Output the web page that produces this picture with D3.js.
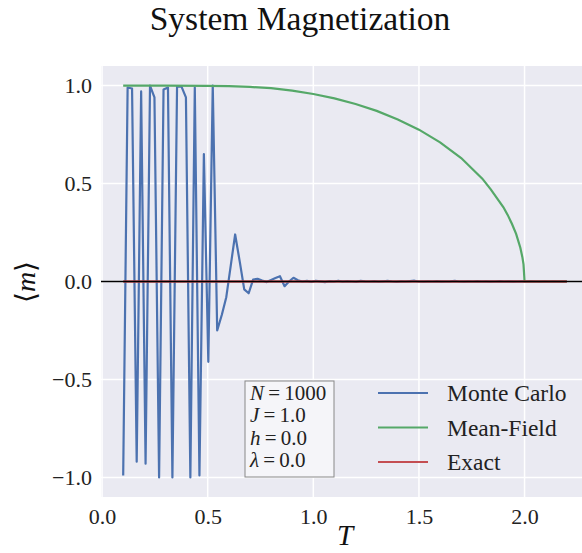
<!DOCTYPE html>
<html>
<head>
<meta charset="utf-8">
<script src="https://cdn.jsdelivr.net/npm/d3@7/dist/d3.min.js"></script>
<style>
  body { margin: 0; background: #fff; }
  svg { display: block; font-family: "Liberation Serif", "DejaVu Serif", serif; }
</style>
</head>
<body>
<div id="chart"></div>
<script>
// Temperatures sampled by the simulation
const temps = [
  0.100, 0.121, 0.142, 0.164, 0.185, 0.206, 0.227, 0.248, 0.270, 0.291,
  0.312, 0.333, 0.355, 0.376, 0.397, 0.418, 0.439, 0.461, 0.482, 0.503,
  0.524, 0.545, 0.567, 0.588, 0.609, 0.630, 0.652, 0.673, 0.694, 0.715,
  0.736, 0.758, 0.779, 0.800, 0.821, 0.842, 0.864, 0.885, 0.906, 0.927,
  0.948, 0.970, 0.991, 1.012, 1.033, 1.055, 1.076, 1.097, 1.118, 1.139,
  1.161, 1.182, 1.203, 1.224, 1.245, 1.267, 1.288, 1.309, 1.330, 1.352,
  1.373, 1.394, 1.415, 1.436, 1.458, 1.479, 1.500, 1.521, 1.542, 1.564,
  1.585, 1.606, 1.627, 1.648, 1.670, 1.691, 1.712, 1.733, 1.755, 1.776,
  1.797, 1.818, 1.839, 1.861, 1.882, 1.903, 1.924, 1.945, 1.967, 1.988,
  2.009, 2.030, 2.052, 2.073, 2.094, 2.115, 2.136, 2.158, 2.179, 2.200
];

// Monte Carlo magnetization, one value per temperature
const monteCarlo = [
  -0.99, 0.99, 0.985, -0.92, 0.97, -0.93, 1.0, 0.94, -1.0, 0.98,
  0.99, -1.0, 0.995, 0.995, 0.94, -1.0, 0.99, -0.99, 0.65, -0.41,
  1.0, -0.25, -0.17, -0.08, 0.08, 0.24, 0.10, -0.04, -0.06, 0.01,
  0.014, 0.005, -0.003, 0.008, 0.018, 0.027, -0.024, 0.0, 0.019, 0.006,
  0.0, 0.003, -0.002, 0.004, 0.001, -0.003, 0.002, 0.0, 0.004, -0.001,
  0.002, 0.0, -0.002, 0.003, 0.001, 0.0, 0.002, -0.001, 0.001, 0.003,
  0.0, -0.002, 0.001, 0.0, 0.002, 0.004, 0.0, -0.001, 0.001, 0.0,
  0.002, -0.001, 0.0, 0.001, 0.003, 0.0, -0.001, 0.001, 0.0, 0.002,
  0.0, 0.001, -0.001, 0.0, 0.002, 0.0, 0.001, -0.001, 0.0, 0.001,
  0.0, 0.002, 0.0, -0.001, 0.001, 0.0, 0.001, 0.0, -0.001, 0.0
];

// Mean-field curve
const mfTemps = [0.1, 0.3, 0.5, 0.6, 0.7, 0.8, 0.9, 1.0, 1.1, 1.2, 1.3, 1.4, 1.5,
  1.6, 1.7, 1.8, 1.84, 1.9, 1.92, 1.94, 1.96, 1.98, 1.99, 1.995, 2.0, 2.2];
const meanField = [1.0, 1.0, 0.999, 0.997, 0.993, 0.987, 0.974, 0.957, 0.935, 0.906, 0.871, 0.827, 0.775,
  0.71, 0.63, 0.525, 0.47, 0.379, 0.34, 0.295, 0.243, 0.172, 0.122, 0.087, 0.0, 0.0];

// Exact solution (zero field, 1D)
const exactTemps = [0.1, 2.2];
const exact = [0.0, 0.0];

const xTicks = [0.0, 0.5, 1.0, 1.5, 2.0];
const yTicks = [-1.0, -0.5, 0.0, 0.5, 1.0];
const seriesNames = ["Monte Carlo", "Mean-Field", "Exact"];
const seriesColors = ["#4C72B0", "#55A868", "#C44E52"];
const boxLines = [["N", "1000"], ["J", "1.0"], ["h", "0.0"], ["λ", "0.0"]];

const W = 582, H = 553;
const plot = { left: 101, right: 589, top: 66, bottom: 497 };

const svg = d3.select("#chart").append("svg")
  .attr("width", W).attr("height", H);

const x = d3.scaleLinear().domain([-0.005, 2.305]).range([plot.left, plot.right]);
const y = d3.scaleLinear().domain([-1.1, 1.1]).range([plot.bottom, plot.top]);

// Background
svg.append("rect")
  .attr("x", plot.left).attr("y", plot.top)
  .attr("width", plot.right - plot.left).attr("height", plot.bottom - plot.top)
  .attr("fill", "#EAEAF2");

// Grid
const grid = svg.append("g");
grid.selectAll(".gx").data(xTicks).enter().append("line")
  .attr("x1", d => x(d)).attr("x2", d => x(d))
  .attr("y1", plot.top).attr("y2", plot.bottom)
  .attr("stroke", "#fff").attr("stroke-width", 1.5);
grid.selectAll(".gy").data(yTicks).enter().append("line")
  .attr("x1", plot.left).attr("x2", plot.right)
  .attr("y1", d => y(d)).attr("y2", d => y(d))
  .attr("stroke", "#fff").attr("stroke-width", 1.5);

// Axes
const fmt = d => (d < 0 ? "\u2212" : "") + Math.abs(d).toFixed(1);
const xAxis = svg.append("g")
  .attr("transform", `translate(0,${plot.bottom})`)
  .call(d3.axisBottom(x).tickValues(xTicks).tickSize(0).tickPadding(11).tickFormat(fmt));
const yAxis = svg.append("g")
  .attr("transform", `translate(${plot.left},0)`)
  .call(d3.axisLeft(y).tickValues(yTicks).tickSize(0).tickPadding(9).tickFormat(fmt));
[xAxis, yAxis].forEach(a => {
  a.select(".domain").remove();
  a.selectAll("text")
    .attr("font-family", "Liberation Serif, serif")
    .attr("font-size", 22).attr("fill", "#222");
});

// Lines
const line = d3.line().x(d => x(d[0])).y(d => y(d[1]));
const plotArea = svg.append("g");

plotArea.append("path")
  .datum(d3.zip(temps, monteCarlo))
  .attr("d", line).attr("fill", "none")
  .attr("stroke", seriesColors[0]).attr("stroke-width", 2.2).attr("stroke-linejoin", "round");

plotArea.append("path")
  .datum(d3.zip(mfTemps, meanField))
  .attr("d", line).attr("fill", "none")
  .attr("stroke", seriesColors[1]).attr("stroke-width", 2.2);

plotArea.append("path")
  .datum(d3.zip(exactTemps, exact))
  .attr("d", line).attr("fill", "none")
  .attr("stroke", seriesColors[2]).attr("stroke-width", 2.4);

// axhline at zero
plotArea.append("line")
  .attr("x1", plot.left).attr("x2", plot.right)
  .attr("y1", y(0)).attr("y2", y(0))
  .attr("stroke", "#000").attr("stroke-width", 1.3);

// Parameter box
const box = svg.append("g").attr("transform", "translate(245,381)");
box.append("rect")
  .attr("width", 89).attr("height", 96)
  .attr("fill", "#F5F5F9").attr("stroke", "#888").attr("stroke-width", 1);
boxLines.forEach((d, i) => {
  const t = box.append("text")
    .attr("x", 5).attr("y", 12 + i * 22.3)
    .attr("dominant-baseline", "central")
    .attr("font-size", 21).attr("fill", "#222");
  t.append("tspan").attr("font-style", "italic").text(d[0]);
  t.append("tspan").text("\u2009=\u2009" + d[1]);
});

// Legend
const legend = svg.append("g");
seriesNames.forEach((name, i) => {
  const ly = 393 + i * 34.5;
  legend.append("line")
    .attr("x1", 378).attr("x2", 428).attr("y1", ly).attr("y2", ly)
    .attr("stroke", seriesColors[i]).attr("stroke-width", 2);
  legend.append("text")
    .attr("x", 447).attr("y", ly)
    .attr("dominant-baseline", "central")
    .attr("font-size", 23.5).attr("fill", "#222")
    .text(name);
});

// Title and axis labels
svg.append("text")
  .attr("x", 300).attr("y", 30)
  .attr("text-anchor", "middle")
  .attr("font-size", 33.5).attr("fill", "#111")
  .text("System Magnetization");

svg.append("text")
  .attr("x", 345).attr("y", 545)
  .attr("text-anchor", "middle")
  .attr("font-size", 29).attr("font-style", "italic").attr("fill", "#111")
  .text("T");

svg.append("text")
  .attr("transform", "translate(35,282) rotate(-90)")
  .attr("text-anchor", "middle")
  .attr("font-size", 28).attr("fill", "#111")
  .html('<tspan font-family="DejaVu Serif">\u27E8</tspan><tspan font-style="italic">m</tspan><tspan font-family="DejaVu Serif">\u27E9</tspan>');
</script>
</body>
</html>
